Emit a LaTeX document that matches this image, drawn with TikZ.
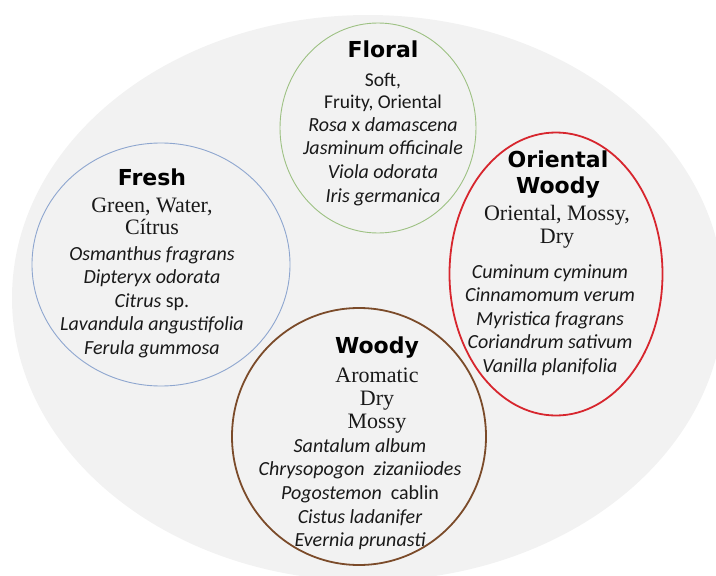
\documentclass[tikz,border=0pt]{standalone}
\usepackage{fontspec}
\usepackage{tikz}
\usetikzlibrary{shapes.geometric}
\setmainfont{Liberation Serif}
\newfontfamily\headfont{DejaVu Sans}
\newfontfamily\calfont{Carlito}
\definecolor{bggrey}{HTML}{F2F2F2}
\definecolor{floralgreen}{HTML}{9DC183}
\definecolor{freshblue}{HTML}{8EA6CF}
\definecolor{orientred}{HTML}{D7262E}
\definecolor{woodybrown}{HTML}{7B4B2A}

\tikzset{
  ring/.style={ellipse, inner sep=0pt},
  headtxt/.style={font=\headfont\bfseries\fontsize{22}{24}\selectfont, text=black},
  serftxt/.style={font=\fontsize{22}{24}\selectfont, text=black!90},
  sanstxt/.style={font=\calfont\fontsize{19.5}{24}\selectfont, text=black!90},
  spectxt/.style={font=\calfont\itshape\fontsize{20}{24}\selectfont, text=black!90}
}

\begin{document}
\begin{tikzpicture}[x=1pt,y=-1pt]
        \tikzstyle{every node}+=[inner sep=0pt, text height=14pt, text depth=4pt]
        \useasboundingbox (0,0) rectangle (716,576);
        \clip (0,0) rectangle (716,576);
        \fill [bggrey] (368,298) ellipse [x radius=356pt, y radius=283pt];
        % the four families
        \node [ring, draw=floralgreen, line width=0.9pt, minimum width=196pt, minimum height=210pt] (floral) at (378,128) {};
        \node [ring, draw=freshblue, line width=0.9pt, minimum width=258pt, minimum height=243pt] (fresh) at (161,264.5) {};
        \node [ring, draw=orientred, line width=1.8pt, minimum width=213pt, minimum height=283pt] (orient) at (556,274) {};
        \node [ring, draw=woodybrown, line width=1.8pt, minimum width=254pt, minimum height=257pt] (woody) at (359,436.5) {};
        % Floral
        \node [headtxt] (floral-h) at (383,52) {Floral};
        \node [sanstxt] (floral-d0) at (383,81) {Soft,};
        \node [sanstxt] (floral-d1) at (383,103) {Fruity, Oriental};
        \foreach \t [count=\i from 0] in {Rosa \textup{x} damascena, Jasminum officinale, Viola odorata, Iris germanica}
          \node [spectxt] (floral-s\i) at (383,126+23.7*\i) {\t};
        % Fresh
        \node [headtxt] (fresh-h) at (152,180) {Fresh};
        \node [serftxt] (fresh-d0) at (152,207) {Green, Water,};
        \node [serftxt] (fresh-d1) at (152,229) {Cítrus};
        \foreach \t [count=\i from 0] in {Osmanthus fragrans, Dipteryx odorata, Citrus \textup{sp.}, Lavandula angustifolia, Ferula gummosa}
          \node [spectxt] (fresh-s\i) at (152,255+23.5*\i) {\t};
        % Oriental Woody
        \node [headtxt] (orient-h0) at (558,162) {Oriental};
        \node [headtxt] (orient-h1) at (558,188) {Woody};
        \node [serftxt] (orient-d0) at (557,215) {Oriental, Mossy,};
        \node [serftxt] (orient-d1) at (557,238) {Dry};
        \foreach \t [count=\i from 0] in {Cuminum cyminum, Cinnamomum verum, Myristica fragrans, Coriandrum sativum, Vanilla planifolia}
          \node [spectxt] (orient-s\i) at (550,273+23.5*\i) {\t};
        % Woody
        \node [headtxt] (woody-h) at (377,348) {Woody};
        \foreach \t [count=\i from 0] in {Aromatic, Dry, Mossy}
          \node [serftxt] (woody-d\i) at (377,377+23*\i) {\t};
        \foreach \t [count=\i from 0] in {Santalum album, Chrysopogon\ \ zizaniiodes, Pogostemon\ \ \textup{cablin}, Cistus ladanifer, Evernia prunasti}
          \node [spectxt] (woody-s\i) at (360,447+23.7*\i) {\t};
\end{tikzpicture}
\end{document}
